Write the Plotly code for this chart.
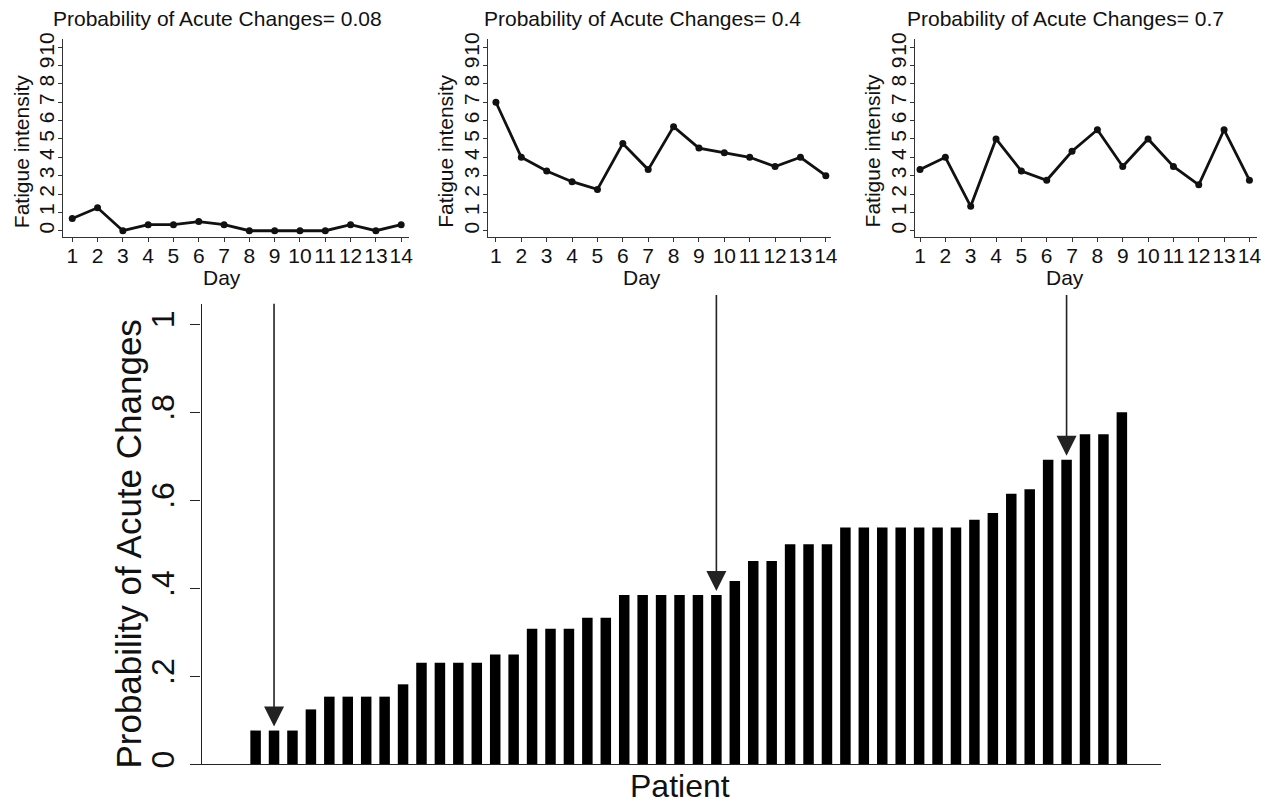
import plotly.graph_objects as go

# page is 1277x811; the browser body has an 8px margin, so the figure is
# sized to fit inside it and reference pixel positions are shifted by 8px.
PAGE_W, PAGE_H, OFF = 1277, 811, 8
W, H = PAGE_W - 2 * OFF, PAGE_H - 2 * OFF

# ---------------- data ----------------
days = list(range(1, 15))
fatigue_p008 = [0.67, 1.25, 0, 0.33, 0.33, 0.5, 0.33, 0, 0, 0, 0, 0.33, 0, 0.33]
fatigue_p04 = [7.0, 4.0, 3.25, 2.67, 2.25, 4.75, 3.33, 5.67, 4.5, 4.25, 4.0, 3.5, 4.0, 3.0]
fatigue_p07 = [3.33, 4.0, 1.33, 5.0, 3.25, 2.75, 4.33, 5.5, 3.5, 5.0, 3.5, 2.5, 5.5, 2.75]
panel_titles = ["Probability of Acute Changes= 0.08",
                "Probability of Acute Changes= 0.4",
                "Probability of Acute Changes= 0.7"]

patient_prob = [0.077, 0.077, 0.077, 0.125, 0.154, 0.154, 0.154, 0.154, 0.182,
                0.231, 0.231, 0.231, 0.231, 0.25, 0.25, 0.308, 0.308, 0.308,
                0.333, 0.333, 0.385, 0.385, 0.385, 0.385, 0.385, 0.385, 0.417,
                0.462, 0.462, 0.5, 0.5, 0.5, 0.538, 0.538, 0.538, 0.538, 0.538,
                0.538, 0.538, 0.556, 0.571, 0.615, 0.625, 0.692, 0.692, 0.75,
                0.75, 0.8]
patients = list(range(1, len(patient_prob) + 1))
highlight_patients = [2, 26, 45]      # patients shown in the top panels
arrow_tail = [1.05, 1.07, 1.07]       # arrow start, in probability units

y_ticks_small = list(range(0, 11))
x_ticks_small = days
y_ticks_main = [0, 0.2, 0.4, 0.6, 0.8, 1.0]
y_ticklabels_main = ["0", ".2", ".4", ".6", ".8", "1"]

FONT = "Liberation Sans, Arial, Helvetica, sans-serif"
INK = "#111111"


def px(x):
    return (x - OFF) / W


def py(y):
    return 1 - (y - OFF) / H


fig = go.Figure()

small_series = [fatigue_p008, fatigue_p04, fatigue_p07]
small_xdom = [(62.7, 410), (490, 835), (919, 1263)]
small_xrange = [(0.65, 14.3), (0.7, 14.22), (0.8, 14.3)]
small_title_x = [218, 645, 1070]
small_ytitle_x = [20, 447, 876]
small_day_x = [222, 645, 1070]

for i, (vals, dom, rng) in enumerate(zip(small_series, small_xdom, small_xrange)):
    n = i + 1
    xa = "x" if n == 1 else f"x{n}"
    ya = "y" if n == 1 else f"y{n}"
    fig.add_trace(go.Scatter(
        x=days, y=vals, mode="lines+markers",
        line=dict(color=INK, width=2.8),
        marker=dict(color=INK, size=7),
        xaxis=xa, yaxis=ya, showlegend=False, hoverinfo="x+y"))
    xkey = "xaxis" if n == 1 else f"xaxis{n}"
    ykey = "yaxis" if n == 1 else f"yaxis{n}"
    fig.layout[xkey] = dict(
        domain=[px(dom[0]), px(dom[1])], range=list(rng), anchor=ya,
        tickmode="array", tickvals=x_ticks_small, tickangle=0,
        ticks="outside", ticklen=4, tickwidth=1, tickcolor="#333",
        showline=True, linecolor="#333", linewidth=1,
        showgrid=False, zeroline=False, ticklabelstandoff=-4,
        tickfont=dict(family=FONT, size=21, color=INK))
    fig.layout[ykey] = dict(
        domain=[py(234), py(33)], range=[-0.35, 10.46], anchor=xa,
        tickmode="array", tickvals=y_ticks_small, tickangle=-90,
        ticks="outside", ticklen=4, tickwidth=1, tickcolor="#333",
        showline=True, linecolor="#333", linewidth=1,
        showgrid=False, zeroline=False, ticklabelstandoff=-4,
        tickfont=dict(family=FONT, size=21, color=INK))
    fig.add_annotation(text=panel_titles[i], xref="paper", yref="paper",
                       x=px(small_title_x[i]), y=py(13), showarrow=False,
                       xanchor="center", yanchor="middle",
                       font=dict(family=FONT, size=21, color=INK))
    fig.add_annotation(text="Fatigue intensity", xref="paper", yref="paper",
                       x=px(small_ytitle_x[i]), y=py(147), showarrow=False,
                       textangle=-90, xanchor="center", yanchor="middle",
                       font=dict(family=FONT, size=21, color=INK))
    fig.add_annotation(text="Day", xref="paper", yref="paper",
                       x=px(small_day_x[i]), y=py(275), showarrow=False,
                       xanchor="center", yanchor="middle",
                       font=dict(family=FONT, size=21, color=INK))

# ---------------- main bar chart ----------------
fig.add_trace(go.Bar(
    x=patients, y=patient_prob, marker=dict(color="black", line=dict(width=0)),
    xaxis="x4", yaxis="y4", showlegend=False, width=0.57))

fig.layout["xaxis4"] = dict(
    domain=[px(190), px(1166)], range=[-2.56, 50.1], anchor="y4",
    showticklabels=False, ticks="", showline=True, linecolor="#222",
    linewidth=1.4, showgrid=False, zeroline=False)
fig.layout["yaxis4"] = dict(
    domain=[py(768), py(301.7)], range=[0, 1.046], anchor="free",
    position=px(200.7),
    tickmode="array", tickvals=y_ticks_main, ticktext=y_ticklabels_main,
    tickangle=-90, ticks="outside", ticklen=10, tickwidth=1.3,
    tickcolor="#222", showline=True, linecolor="#222", linewidth=1.4,
    showgrid=False, zeroline=False, ticklabelstandoff=4,
    tickfont=dict(family=FONT, size=32, color=INK))

for p, tail in zip(highlight_patients, arrow_tail):
    fig.add_annotation(
        x=p, y=patient_prob[p - 1], xref="x4", yref="y4",
        ax=p, ay=tail, axref="x4", ayref="y4",
        showarrow=True, arrowhead=2, arrowsize=2.5, arrowwidth=1.6,
        arrowcolor="#222", standoff=4, text="")

fig.add_annotation(text="Patient", xref="paper", yref="paper",
                   x=px(683), y=py(790), showarrow=False,
                   xanchor="center", yanchor="middle",
                   font=dict(family=FONT, size=32, color=INK))
fig.add_annotation(text="Probability of Acute Changes", xref="paper", yref="paper",
                   x=px(128), y=py(545), showarrow=False, textangle=-90,
                   xanchor="center", yanchor="middle",
                   font=dict(family=FONT, size=35, color=INK))

fig.update_layout(
    width=W, height=H, margin=dict(l=0, r=0, t=0, b=0),
    paper_bgcolor="white", plot_bgcolor="white",
    font=dict(family=FONT, color=INK), bargap=0.43)

fig.write_html("out.html")
